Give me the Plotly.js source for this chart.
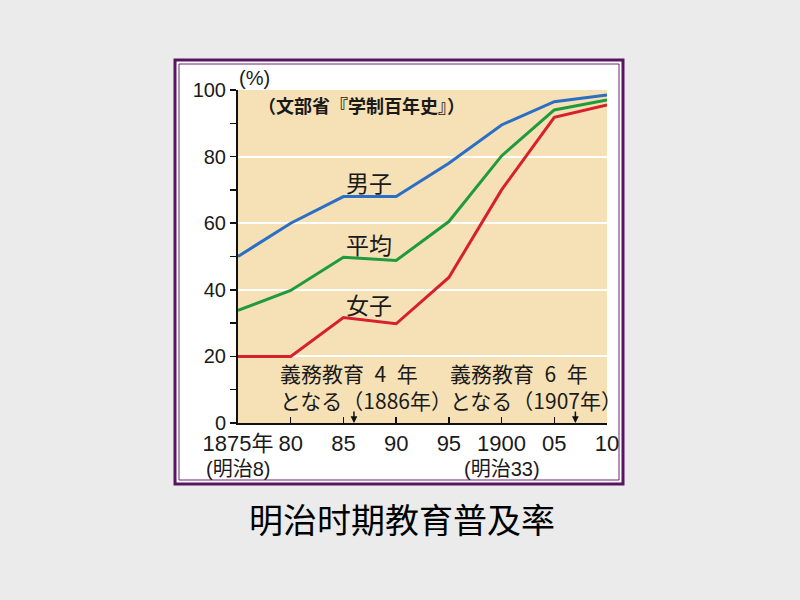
<!DOCTYPE html>
<html>
<head>
<meta charset="utf-8">
<script src="https://cdn.plot.ly/plotly-3.0.1.min.js"></script>
<style>html,body{margin:0;padding:0;background:#ebebeb;}#chart{width:800px;height:600px;}</style>
</head>
<body>
<div id="chart"></div>
<script>
// ---- data ----
const years = [1875, 1880, 1885, 1890, 1895, 1900, 1905, 1910];
const xTickText = ["1875年", "80", "85", "90", "95", "1900", "05", "10"];
const eraYears = [1875, 1900];
const eraLabels = ["(明治8)", "(明治33)"];
const male = [50, 60, 68, 68, 78, 89.5, 96.5, 98.5];
const average = [33.8, 39.8, 49.8, 48.8, 60.5, 80.2, 94, 97];
const female = [20, 20, 31.7, 29.8, 43.7, 70, 91.8, 95.5];
const yTickVals = [0, 20, 40, 60, 80, 100];
const seriesNames = ["男子", "平均", "女子"];
const eventYears = [1886, 1907];
const eventLine1 = ["義務教育\u20024\u2002年", "義務教育\u20026\u2002年"];
const eventLine2 = ["となる（1886年）", "となる（1907年）"];
const sourceText = "（文部省『学制百年史』）";
const unitText = "(%)";
const chartTitle = "明治时期教育普及率";

// ---- layout geometry (pixels) ----
const L = 238, R = 607, T = 90, B = 423;
const W = 800, H = 600;
const px = v => (v - L) / (R - L);
const py = v => (B - v) / (B - T);

const NUM = '"Liberation Sans Narrow", "Liberation Sans", "Noto Sans CJK JP", sans-serif';
const JP = '"Noto Sans CJK JP", sans-serif';

const colors = ["#2a6ec6", "#1f9a3c", "#d7202e"];
const series = [male, average, female];
const traces = series.map((s, i) => ({
  x: years, y: s, type: "scatter", mode: "lines", name: seriesNames[i],
  line: {color: colors[i], width: 3}, hoverinfo: "skip"
}));

const shapes = [
  {type: "rect", xref: "paper", yref: "paper", layer: "below",
   x0: px(175), x1: px(623), y0: py(60), y1: py(484),
   fillcolor: "#ffffff", line: {color: "#5b1462", width: 3}},
  {type: "rect", xref: "paper", yref: "paper", layer: "below",
   x0: px(179), x1: px(619), y0: py(64), y1: py(480),
   fillcolor: "rgba(0,0,0,0)", line: {color: "#6a2470", width: 1}},
  {type: "rect", xref: "x", yref: "y", layer: "below",
   x0: years[0], x1: years[years.length - 1], y0: 0, y1: 100,
   fillcolor: "#f6e1b6", line: {width: 0}}
];

const annotations = [];
const labelPos = [[369, 182], [369, 244], [369, 304]];
seriesNames.forEach((n, i) => annotations.push({
  xref: "paper", yref: "paper", x: px(labelPos[i][0]), y: py(labelPos[i][1]),
  text: n, showarrow: false, xanchor: "center", yanchor: "middle",
  font: {family: JP, size: 23, color: "#1a1a1a"}
}));
const evX = [278, 448];
eventYears.forEach((yr, i) => {
  annotations.push({xref: "paper", yref: "paper", x: px(evX[i]), y: py(386),
    text: eventLine1[i] + "<br>" + eventLine2[i], align: "left",
    showarrow: false, xanchor: "left", yanchor: "middle",
    font: {family: JP, size: 21, color: "#1a1a1a"}});
  annotations.push({xref: "x", yref: "y", x: yr, y: 0, ax: 0, ay: -13,
    text: "", showarrow: true, arrowhead: 2, arrowsize: 0.9, arrowwidth: 1.5,
    arrowcolor: "#111"});
});
eraYears.forEach((yr, i) => annotations.push({
  xref: "x", yref: "paper", x: yr, y: py(469), text: eraLabels[i],
  showarrow: false, xanchor: "center", yanchor: "middle",
  font: {family: NUM, size: 20, color: "#1a1a1a"}
}));
annotations.push({xref: "paper", yref: "paper", x: px(256), y: py(105),
  text: "<b>" + sourceText + "</b>", showarrow: false, xanchor: "left", yanchor: "middle",
  font: {family: JP, size: 18, color: "#1a1a1a"}});
annotations.push({xref: "paper", yref: "paper", x: px(254), y: py(78),
  text: unitText, showarrow: false, xanchor: "center", yanchor: "middle",
  font: {family: NUM, size: 20, color: "#1a1a1a"}});
annotations.push({xref: "paper", yref: "paper", x: px(402), y: py(518),
  text: chartTitle, showarrow: false, xanchor: "center", yanchor: "middle",
  font: {family: '"Noto Sans CJK SC", sans-serif', size: 34, color: "#000"}});

const layout = {
  width: W, height: H,
  margin: {l: L, r: W - R, t: T, b: H - B, pad: 0},
  paper_bgcolor: "#ebebeb", plot_bgcolor: "rgba(0,0,0,0)",
  showlegend: false,
  xaxis: {
    range: [years[0], years[years.length - 1]], tickmode: "array",
    tickvals: years, ticktext: xTickText, tickangle: 0,
    ticks: "inside", ticklen: 6, tickwidth: 1.5, tickcolor: "#111",
    showline: true, linecolor: "#111", linewidth: 2, showgrid: false, zeroline: false,
    ticklabelstandoff: 0,
    tickfont: {family: NUM, size: 22, color: "#1a1a1a"}
  },
  yaxis: {
    range: [0, 100], tickmode: "array", tickvals: yTickVals,
    ticks: "outside", ticklen: 6, tickwidth: 1.5, tickcolor: "#111",
    minor: {dtick: 10, ticks: "outside", ticklen: 6, tickwidth: 1.5, tickcolor: "#111", showgrid: false},
    showline: true, linecolor: "#111", linewidth: 2,
    showgrid: true, gridcolor: "#ffffff", gridwidth: 2, zeroline: false,
    tickfont: {family: NUM, size: 20, color: "#1a1a1a"}
  },
  shapes: shapes,
  annotations: annotations
};

Plotly.newPlot("chart", traces, layout, {staticPlot: true, displayModeBar: false});
</script>
</body>
</html>
